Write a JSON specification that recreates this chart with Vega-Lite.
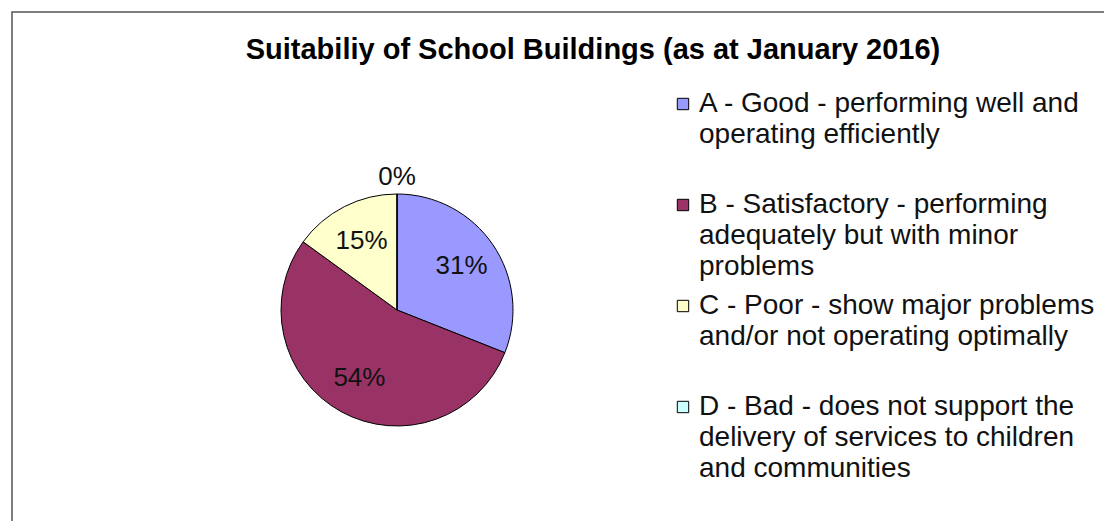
{
  "$schema": "https://vega.github.io/schema/vega-lite/v6.json",
  "width": 1096,
  "height": 513,
  "autosize": "none",
  "padding": {"left": 12, "top": 12, "right": -4, "bottom": -4},
  "background": "white",
  "title": {
    "text": "Suitabiliy of School Buildings (as at January 2016)",
    "font": "Liberation Sans",
    "fontSize": 29,
    "fontWeight": "bold",
    "color": "#000000",
    "anchor": "middle",
    "frame": "group",
    "orient": "top",
    "offset": 0,
    "dx": 33,
    "dy": 53
  },
  "data": {
    "values": [
      {"cat": "A - Good - performing well and|operating efficiently", "share": 0.31},
      {"cat": "B - Satisfactory - performing|adequately but with minor|problems", "share": 0.54},
      {"cat": "C - Poor - show major problems|and/or not operating optimally", "share": 0.15},
      {"cat": "D - Bad - does not support the|delivery of services to children|and communities", "share": 0}
    ]
  },
  "layer": [
    {
      "mark": {"type": "arc", "outerRadius": 116, "stroke": "#000000", "strokeWidth": 1},
      "encoding": {
        "x": {"value": 385},
        "y": {"value": 298},
        "theta": {"field": "share", "type": "quantitative", "stack": true},
        "order": {"field": "cat", "type": "ordinal"},
        "color": {
          "field": "cat",
          "type": "nominal",
          "scale": {"range": ["#9999FF", "#993366", "#FFFFCC", "#CCFFFF"]},
          "legend": {
            "title": null,
            "orient": "none",
            "legendX": 657,
            "legendY": 78,
            "labelExpr": "split(datum.label, '|')",
            "labelFont": "Liberation Sans",
            "labelFontSize": 28,
            "labelColor": "#111111",
            "labelLimit": 700,
            "labelOffset": 2,
            "labelBaseline": "middle",
            "symbolType": "square",
            "symbolSize": 130,
            "symbolStrokeColor": "#000000",
            "symbolStrokeWidth": 1,
            "symbolOpacity": 1,
            "rowPadding": 11,
            "gridAlign": "all",
            "encode": {"labels": {"update": {"lineHeight": {"value": 31}}}}
          }
        }
      }
    },
    {
      "transform": [{"filter": "datum.share > 0"}],
      "mark": {"type": "text", "radius": 78, "font": "Liberation Sans", "fontSize": 26, "color": "#111111"},
      "encoding": {
        "x": {"value": 385},
        "y": {"value": 298},
        "theta": {"field": "share", "type": "quantitative", "stack": true},
        "order": {"field": "cat", "type": "ordinal"},
        "text": {"field": "share", "type": "quantitative", "format": ".0%"}
      }
    },
    {
      "transform": [{"filter": "datum.share == 0"}],
      "mark": {"type": "text", "radius": 133, "font": "Liberation Sans", "fontSize": 26, "color": "#111111"},
      "encoding": {
        "x": {"value": 385},
        "y": {"value": 298},
        "theta": {"field": "share", "type": "quantitative", "stack": true},
        "text": {"field": "share", "type": "quantitative", "format": ".0%"}
      }
    }
  ],
  "config": {
    "view": {"stroke": "#555555", "strokeWidth": 1.5}
  }
}
